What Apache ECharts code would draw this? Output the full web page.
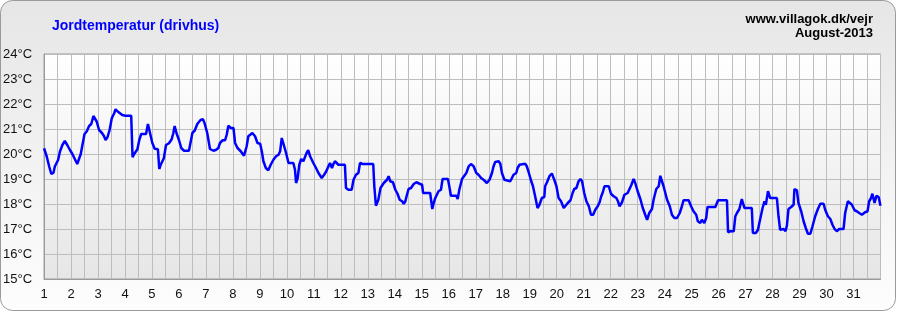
<!DOCTYPE html>
<html>
<head>
<meta charset="utf-8">
<script src="https://cdn.jsdelivr.net/npm/echarts@6/dist/echarts.min.js"></script>
<style>
html,body{margin:0;padding:0;background:#fff;}
#chart{width:897px;height:312px;}
</style>
</head>
<body>
<div id="chart"></div>
<script>
// Time (day of month, fractional) and soil temperature (°C)
var times = [
1.0,1.1,1.19,1.27,1.35,1.4,1.44,1.52,1.59,1.68,1.77,1.86,1.96,2.05,2.14,2.23,2.3,2.36,2.43,2.5,
2.58,2.67,2.75,2.83,2.88,2.95,3.04,3.14,3.22,3.28,3.35,3.43,3.51,3.6,3.65,3.74,3.8,3.9,4.02,4.23,
4.28,4.36,4.46,4.53,4.6,4.78,4.85,4.93,5.01,5.1,5.22,5.27,5.32,5.38,5.44,5.52,5.63,5.73,5.79,5.84,
5.91,6.0,6.09,6.19,6.37,6.5,6.58,6.68,6.8,6.89,6.95,7.05,7.15,7.28,7.38,7.46,7.52,7.62,7.71,7.77,
7.83,7.92,8.02,8.08,8.17,8.29,8.41,8.51,8.57,8.64,8.72,8.82,8.91,9.01,9.07,9.13,9.22,9.31,9.4,9.5,
9.6,9.69,9.75,9.81,9.9,9.97,10.06,10.24,10.3,10.34,10.4,10.46,10.53,10.61,10.67,10.73,10.79,10.86,10.98,11.08,
11.17,11.29,11.38,11.46,11.54,11.6,11.67,11.73,11.78,11.91,12.15,12.19,12.28,12.4,12.47,12.56,12.65,12.71,12.81,13.2,
13.24,13.3,13.39,13.47,13.52,13.59,13.65,13.71,13.77,13.83,13.93,14.02,14.1,14.18,14.27,14.33,14.39,14.45,14.51,14.6,
14.7,14.8,14.92,15.01,15.05,15.31,15.35,15.39,15.44,15.5,15.56,15.62,15.71,15.77,15.97,16.03,16.08,16.28,16.33,16.39,
16.49,16.55,16.65,16.74,16.82,16.92,17.02,17.1,17.2,17.31,17.41,17.51,17.6,17.66,17.72,17.85,17.91,17.97,18.06,18.13,
18.28,18.34,18.4,18.5,18.55,18.62,18.83,18.89,18.95,19.04,19.12,19.2,19.29,19.36,19.45,19.54,19.57,19.64,19.74,19.82,
19.91,19.99,20.07,20.16,20.26,20.32,20.41,20.51,20.59,20.65,20.73,20.81,20.88,20.94,21.02,21.1,21.19,21.27,21.35,21.43,
21.52,21.59,21.65,21.7,21.77,21.93,22.01,22.11,22.21,22.27,22.33,22.42,22.51,22.58,22.63,22.7,22.77,22.85,22.91,23.0,
23.1,23.19,23.28,23.35,23.43,23.53,23.59,23.69,23.78,23.84,23.9,23.96,24.09,24.19,24.27,24.36,24.46,24.56,24.64,24.7,
24.89,24.98,25.07,25.17,25.23,25.32,25.38,25.47,25.54,25.59,25.88,25.98,26.31,26.35,26.43,26.56,26.62,26.68,26.77,26.84,
26.86,26.9,26.96,27.23,27.27,27.38,27.46,27.51,27.54,27.63,27.7,27.75,27.83,27.88,27.91,28.16,28.22,28.28,28.35,28.41,
28.48,28.53,28.59,28.69,28.78,28.81,28.9,28.96,29.06,29.15,29.23,29.31,29.4,29.48,29.58,29.68,29.77,29.89,29.95,30.05,
30.14,30.22,30.3,30.38,30.47,30.63,30.69,30.79,30.85,30.94,31.04,31.12,31.21,31.31,31.37,31.43,31.52,31.58,31.65,31.7,
31.78,31.85,31.93,32.0
];
var temps = [
20.23,19.9,19.5,19.2,19.25,19.5,19.5,19.76,20.1,20.36,20.52,20.36,20.16,20.0,19.8,19.6,19.6,20.0,20.03,20.8,
20.9,21.12,21.2,21.52,21.52,21.3,20.96,20.85,20.72,20.56,20.67,20.96,21.43,21.63,21.79,21.69,21.76,21.56,21.53,21.53,
19.87,20.03,20.19,20.56,20.8,20.8,21.2,20.83,20.45,20.21,20.19,19.4,19.56,19.52,19.83,20.36,20.43,20.59,20.83,21.12,
20.83,20.56,20.23,20.13,20.13,20.85,20.93,21.2,21.36,21.39,21.23,20.83,20.2,20.13,20.17,20.24,20.44,20.55,20.55,20.77,
21.13,21.04,21.04,20.44,20.24,20.11,19.93,20.31,20.71,20.75,20.84,20.71,20.44,20.41,20.11,19.71,19.44,19.35,19.57,19.77,
19.91,19.97,20.11,20.64,20.31,20.04,19.64,19.64,19.37,18.84,19.04,19.57,19.8,19.71,19.71,20.04,20.15,19.91,19.64,19.44,
19.24,19.04,19.17,19.31,19.51,19.64,19.44,19.61,19.71,19.57,19.57,18.64,18.57,18.57,18.97,19.17,19.24,19.64,19.6,19.6,
18.71,17.93,18.17,18.64,18.71,18.84,18.87,18.97,19.11,18.91,18.87,18.57,18.41,18.17,18.11,18.01,18.11,18.37,18.6,18.64,
18.8,18.87,18.81,18.77,18.44,18.44,18.11,17.8,18.04,18.24,18.2,18.51,18.57,19.0,19.0,18.64,18.33,18.33,18.2,18.57,
19.0,19.04,19.24,19.51,19.6,19.51,19.24,19.17,19.04,18.95,18.84,18.97,19.24,19.51,19.68,19.71,19.61,19.24,18.97,18.91,
18.91,18.97,19.17,19.24,19.44,19.57,19.61,19.51,19.31,18.97,18.71,18.31,17.84,17.97,18.24,18.28,18.71,18.87,19.13,19.22,
18.97,18.71,18.24,18.11,17.84,17.84,18.04,18.15,18.44,18.6,18.64,18.91,19.0,18.91,18.44,18.11,17.91,17.57,17.57,17.77,
17.91,18.07,18.31,18.44,18.71,18.71,18.41,18.31,18.24,18.11,17.91,18.07,18.37,18.31,18.44,18.47,18.77,19.0,18.84,18.51,
18.2,17.84,17.57,17.37,17.64,17.8,18.17,18.6,18.71,19.13,18.91,18.71,18.17,17.91,17.57,17.44,17.44,17.64,17.91,18.15,
18.15,17.91,17.71,17.57,17.31,17.24,17.37,17.24,17.44,17.88,17.88,18.15,18.15,16.87,16.91,16.91,17.51,17.64,17.8,17.84,
18.2,18.04,17.84,17.84,16.84,16.84,16.97,17.24,17.27,17.84,18.11,17.97,18.51,18.44,18.24,18.24,17.51,16.97,16.91,17.0,
16.91,17.13,17.8,17.88,17.97,18.6,18.55,18.04,17.71,17.31,17.04,16.81,16.81,17.11,17.51,17.8,18.01,18.01,17.77,17.51,
17.4,17.17,17.0,16.91,17.0,17.0,17.64,18.11,18.04,17.97,17.75,17.71,17.64,17.57,17.53,17.67,17.71,18.11,18.24,18.41,
18.04,18.33,18.28,17.93
];
var yTicks = [15,16,17,18,19,20,21,22,23,24];
var dayLabels = [];
for (var d = 1; d <= 31; d++) dayLabels.push(d);
var title = 'Jordtemperatur (drivhus)';
var sourceText = 'www.villagok.dk/vejr';
var periodText = 'August-2013';

var seriesData = times.map(function (t, i) { return [t, temps[i]]; });

var chart = echarts.init(document.getElementById('chart'), null, {renderer: 'canvas'});
var font = '"Liberation Sans", Arial, sans-serif';
chart.setOption({
  animation: false,
  backgroundColor: 'transparent',
  graphic: [
    {
      type: 'rect', z: -100, silent: true,
      shape: {x: 0.5, y: 0.5, width: 895, height: 310, r: 12},
      style: {
        fill: new echarts.graphic.LinearGradient(0, 0, 0, 1, [
          {offset: 0, color: '#e6e6e6'}, {offset: 1, color: '#fdfdfd'}
        ]),
        stroke: '#9a9a9a', lineWidth: 1
      }
    },
    {
      type: 'text', left: 52, top: 19, silent: true,
      style: {text: title, fill: '#0000ff', font: 'bold 14px ' + font}
    },
    {
      type: 'text', right: 24, top: 13, silent: true,
      style: {text: sourceText, fill: '#000', font: 'bold 13px ' + font, textAlign: 'right'}
    },
    {
      type: 'text', right: 24, top: 27, silent: true,
      style: {text: periodText, fill: '#000', font: 'bold 13px ' + font, textAlign: 'right'}
    }
  ],
  grid: {
    left: 43.5, right: 16.5, top: 54, bottom: 33,
    show: true,
    backgroundColor: new echarts.graphic.LinearGradient(0, 0, 0, 1, [
      {offset: 0, color: '#ffffff'}, {offset: 1, color: '#e6e6e6'}
    ]),
    borderColor: '#9a9a9a', borderWidth: 1,
    containLabel: false
  },
  xAxis: {
    type: 'value', min: 1, max: 32, interval: 0.5,
    axisLine: {show: true, lineStyle: {color: '#9a9a9a'}},
    axisTick: {show: false},
    splitLine: {show: true, lineStyle: {color: '#bdbdbd', width: 1}},
    axisLabel: {
      color: '#111', fontSize: 13, fontFamily: font, margin: 9,
      showMaxLabel: false,
      formatter: function (v) {
        var r = Math.round(v);
        if (Math.abs(v - r) > 1e-6) return '';
        return dayLabels.indexOf(r) >= 0 ? String(r) : '';
      }
    }
  },
  yAxis: {
    type: 'value', min: yTicks[0], max: yTicks[yTicks.length - 1], interval: 1,
    axisLine: {show: true, lineStyle: {color: '#9a9a9a'}},
    axisTick: {show: false},
    splitLine: {show: true, lineStyle: {color: '#bdbdbd', width: 1}},
    axisLabel: {
      color: '#111', fontSize: 13, fontFamily: font, margin: 12,
      formatter: function (v) { return v + '°C'; }
    }
  },
  series: [{
    type: 'line',
    data: seriesData,
    showSymbol: false,
    symbol: 'none',
    smooth: false,
    lineStyle: {color: '#0000ff', width: 2.5},
    z: 5
  }]
});
</script>
</body>
</html>
